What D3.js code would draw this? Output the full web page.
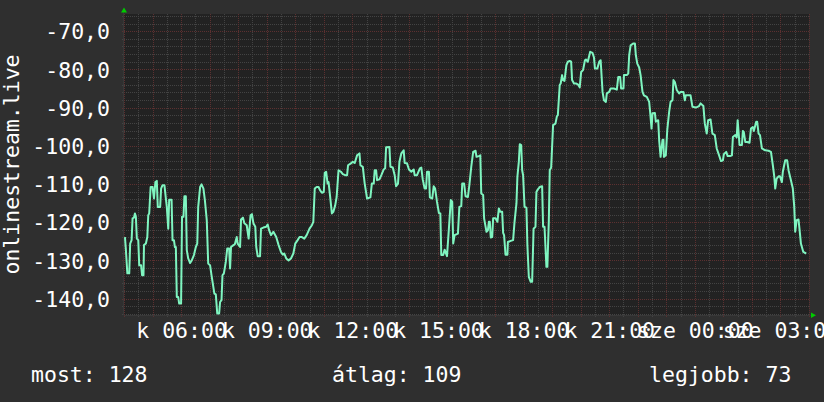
<!DOCTYPE html>
<html><head><meta charset="utf-8">
<script src="https://cdn.jsdelivr.net/npm/d3@7/dist/d3.min.js"></script>
<style>
html,body{margin:0;padding:0;background:#2f2f2f;overflow:hidden;}
svg{display:block;}
text{font-family:"DejaVu Sans Mono",monospace;fill:#ffffff;}
</style></head><body>
<svg id="chart" width="824" height="402"></svg>
<script>
// minutes after kedd 04:00
const minutes = [
2,4,7,11,13,16,18,21,23,25,27,30,32,36,38,41,42,46,49,51,
53,56,60,63,66,69,71,76,78,81,85,88,90,93,95,100,102,105,107,109,
111,114,116,120,122,125,127,130,132,135,139,142,147,151,154,156,160,163,167,170,
174,177,181,184,190,193,196,200,202,205,207,210,214,217,221,223,225,230,233,237,
239,244,246,250,253,258,262,266,269,272,276,278,281,286,288,293,299,302,305,309,
314,320,325,330,334,337,341,346,351,356,360,365,369,374,379,384,390,395,398,401,
405,409,412,416,420,422,425,428,430,433,437,440,444,447,451,456,460,465,469,471,
477,481,485,490,495,497,502,506,511,518,521,525,527,530,532,537,541,546,549,551,
558,560,565,569,572,576,579,583,588,590,595,599,604,609,611,616,622,625,628,632,
635,637,641,643,648,651,654,658,662,665,667,671,674,679,683,687,690,692,695,702,
705,709,711,715,718,723,726,730,734,739,741,746,749,751,755,757,762,765,767,769,
771,774,776,781,785,788,791,795,797,799,802,806,807,813,818,821,825,827,830,832,
835,837,839,842,846,848,851,855,858,861,865,867,870,874,879,881,884,888,890,893,
895,898,902,907,910,912,916,918,921,923,926,930,933,937,940,942,946,951,954,958,
961,965,969,971,975,980,985,988,990,995,999,1002,1006,1009,1013,1015,1020,1023,1030,1036,
1039,1043,1045,1050,1051,1057,1060,1062,1065,1071,1074,1076,1079,1083,1086,1090,1093,1099,1104,1106,
1109,1111,1116,1118,1123,1125,1128,1132,1134,1135,1139,1142,1146,1149,1153,1155,1158,1162,1167,1170,
1176,1179,1181,1191,1195,1202,1209,1212,1218,1221,1225,1228,1233,1237,1242,1246,1251,1255,1259,1261,
1266,1269,1274,1278,1280,1285,1288,1290,1294,1299,1301,1303,1306,1310,1315,1318,1322,1324,1329,1331,
1334,1337,1341,1348,1355,1360,1364,1367,1369,1372,1376,1379,1383,1385,1390,1394,1397,1402,1406,1409,
1411,1414,1418,1421,1423,1428,1434
];
const values = [
-123.9,-127.3,-133.4,-133.4,-125.6,-124.7,-119.0,-118.8,-117.7,-118.6,
-124.3,-124.7,-131.3,-131.3,-133.9,-133.9,-126.0,-125.6,-123.9,-118.2,
-117.7,-110.8,-110.8,-113.8,-109.5,-109.2,-116.0,-116.0,-111.2,-110.3,
-110.3,-113.8,-116.0,-121.7,-114.1,-114.1,-124.7,-124.7,-126.5,-126.5,
-139.6,-139.6,-141.3,-141.3,-118.6,-118.6,-113.2,-113.2,-127.3,-129.5,
-130.7,-130.1,-128.6,-126.5,-125.6,-116.0,-110.8,-110.1,-111.2,-114.2,
-119.5,-130.8,-131.3,-133.9,-138.7,-138.9,-143.9,-143.9,-140.9,-140.4,
-133.9,-133.4,-130.4,-126.9,-126.9,-132.1,-126.5,-126.0,-125.8,-123.9,
-125.6,-126.5,-119.3,-118.8,-120.3,-120.8,-124.3,-118.2,-117.9,-120.3,
-121.2,-126.5,-128.9,-128.9,-121.7,-121.4,-121.2,-120.6,-122.1,-123.4,
-122.5,-123.9,-126.0,-127.8,-128.5,-128.2,-129.5,-130.0,-129.5,-128.2,
-125.6,-124.7,-123.9,-123.9,-124.3,-123.4,-121.7,-120.8,-119.9,-111.2,
-110.8,-110.8,-111.6,-112.3,-112.1,-107.1,-106.8,-109.9,-109.5,-112.9,
-117.7,-117.3,-115.6,-113.4,-106.4,-106.8,-107.4,-107.7,-107.7,-105.1,
-104.6,-104.2,-104.5,-102.5,-102.0,-105.1,-105.5,-109.9,-113.8,-113.5,
-109.9,-109.9,-106.4,-106.4,-109.0,-108.8,-107.7,-106.2,-105.9,-100.4,
-100.3,-105.5,-105.7,-107.7,-110.6,-109.9,-104.2,-102.0,-101.2,-104.5,
-104.6,-106.2,-106.8,-106.2,-107.7,-107.7,-105.9,-105.7,-108.8,-111.2,
-111.2,-106.8,-106.8,-113.5,-113.8,-110.6,-111.2,-114.7,-117.6,-117.7,
-128.6,-128.6,-127.2,-128.9,-121.7,-114.2,-114.7,-125.6,-123.4,-123.0,
-116.0,-115.8,-109.9,-109.9,-113.2,-113.4,-110.3,-105.5,-101.6,-101.3,
-102.9,-102.7,-102.5,-112.5,-112.9,-119.0,-122.5,-122.1,-119.9,-119.9,
-124.0,-123.9,-119.0,-119.0,-119.9,-116.4,-117.3,-117.3,-122.8,-123.4,
-128.5,-128.5,-125.2,-124.9,-124.7,-119.9,-115.1,-108.1,-104.2,-99.6,
-99.8,-106.4,-107.7,-116.0,-116.2,-126.0,-134.3,-135.6,-135.6,-121.7,
-121.2,-112.1,-111.4,-110.8,-110.6,-121.2,-121.2,-131.7,-131.7,-119.9,
-106.4,-105.7,-94.6,-94.2,-92.3,-92.0,-84.1,-83.7,-81.5,-82.8,
-83.0,-78.9,-78.0,-77.8,-78.0,-82.8,-83.7,-83.7,-83.9,-84.7,
-80.7,-80.2,-77.6,-77.4,-78.0,-75.4,-75.7,-76.9,-79.8,-79.8,
-78.0,-77.6,-85.9,-88.1,-88.5,-86.3,-85.9,-85.0,-85.0,-85.3,
-82.0,-82.0,-85.0,-85.0,-81.5,-81.5,-81.1,-76.3,-73.7,-73.2,
-73.2,-76.3,-78.5,-79.5,-81.5,-85.9,-86.8,-87.2,-88.5,-91.1,
-95.5,-91.5,-91.4,-93.7,-93.3,-98.5,-102.9,-98.5,-98.4,-102.9,
-102.5,-95.9,-91.1,-88.5,-88.1,-82.8,-83.3,-85.4,-86.3,-85.9,
-85.9,-88.1,-86.8,-86.8,-89.8,-90.0,-89.6,-88.9,-89.6,-94.2,
-96.8,-93.3,-93.1,-96.8,-97.2,-100.7,-102.5,-104.0,-103.8,-102.2,
-101.6,-102.7,-102.7,-102.5,-97.7,-97.2,-97.8,-93.3,-99.8,-99.8,
-96.1,-96.4,-99.0,-99.0,-99.2,-95.5,-95.1,-96.1,-93.7,-93.7,
-96.8,-97.2,-100.7,-101.2,-101.3,-101.6,-105.1,-108.1,-111.2,-108.6,
-108.0,-108.0,-109.5,-106.8,-103.8,-103.8,-106.4,-109.0,-111.2,-116.0,
-122.5,-119.5,-119.3,-123.0,-125.6,-127.8,-128.2
];
const yTicks = [-140,-130,-120,-110,-100,-90,-80,-70];
const xTickHours = [6,9,12,15,18,21,24,27];
const xTickLabels = ["k 06:00","k 09:00","k 12:00","k 15:00","k 18:00","k 21:00","sze 00:00","sze 03:00"];
const yTitle = "onlinestream.live";
const legendLabels = ["most: 128","átlag: 109","legjobb: 73"];
const yDomain = [-144.3, -65.5];

const startTime = new Date(2024,0,2,4,0);
const endTime = new Date(2024,0,3,4,0);
const data = minutes.map((m,i)=>({t:d3.timeMinute.offset(startTime,m), v:values[i]}));

const W=824,H=402;
const L=124,R=809,T=14,B=315;
const svg=d3.select("#chart");
const x=d3.scaleTime().domain([startTime,endTime]).range([L,R]);
const y=d3.scaleLinear().domain(yDomain).range([B,T]);
const loc=d3.formatLocale({decimal:",",thousands:" ",grouping:[3],currency:["",""],minus:"-"});
const fmt=loc.format(".1f");

svg.append("rect").attr("width",W).attr("height",H).attr("fill","#2f2f2f");
svg.append("rect").attr("x",L).attr("y",T).attr("width",R-L).attr("height",B-T).attr("fill","#222222");

const grid=svg.append("g").attr("shape-rendering","crispEdges");
const px=v=>Math.round(v)+0.5;
const minorCol="#434343", majorCol="#5c3030";
// minor horizontal
const minorY=d3.range(-144,-65,2).filter(v=>v%10!==0);
grid.selectAll(".mh").data(minorY).join("line")
 .attr("x1",L-2).attr("x2",R).attr("y1",d=>px(y(d))).attr("y2",d=>px(y(d)))
 .attr("stroke",minorCol).attr("stroke-dasharray","1,1");
// minor vertical every 30 min
const minorX=d3.timeMinute.every(30).range(startTime,endTime).filter(d=>d.getMinutes()!==0);
grid.selectAll(".mv").data(minorX).join("line")
 .attr("y1",T).attr("y2",B+2).attr("x1",d=>px(x(d))).attr("x2",d=>px(x(d)))
 .attr("stroke",minorCol).attr("stroke-dasharray","1,1");
// major
grid.selectAll(".Mh").data(yTicks).join("line")
 .attr("x1",L-2).attr("x2",R).attr("y1",d=>px(y(d))).attr("y2",d=>px(y(d)))
 .attr("stroke",majorCol).attr("stroke-dasharray","1,1");
const majorX=d3.timeHour.range(startTime,d3.timeMinute.offset(endTime,1));
grid.selectAll(".Mv").data(majorX).join("line")
 .attr("y1",T).attr("y2",B+3).attr("x1",d=>px(x(d))).attr("x2",d=>px(x(d)))
 .attr("stroke",majorCol).attr("stroke-dasharray","1,1");
// axes lines
grid.append("line").attr("x1",L).attr("x2",R+2).attr("y1",B+0.5).attr("y2",B+0.5).attr("stroke","#383838");
grid.append("line").attr("x1",L-0.5).attr("x2",L-0.5).attr("y1",T-2).attr("y2",B).attr("stroke","#383838");

// data line
svg.append("clipPath").attr("id","clip").append("rect").attr("x",L).attr("y",T).attr("width",R-L).attr("height",B-T);
svg.append("path").datum(data).attr("clip-path","url(#clip)")
 .attr("fill","none").attr("stroke","#7ff5c0").attr("stroke-width",2).attr("stroke-linejoin","round")
 .attr("d",d3.line().x(d=>x(d.t)).y(d=>y(d.v)));

// arrows
svg.append("path").attr("fill","#00cc00")
 .attr("d",`M${L-3},${T-1.5}L${L+3},${T-1.5}L${L},${T-6.5}Z`);
svg.append("path").attr("fill","#00cc00")
 .attr("d",`M${R+2},${B-2.5}L${R+2},${B+3}L${R+7},${B+0.25}Z`);

// y axis labels
const yAxis=d3.axisLeft(y).tickValues(yTicks).tickFormat(fmt).tickSize(0).tickPadding(14);
const gy=svg.append("g").attr("transform",`translate(${L},0)`).call(yAxis);
gy.select(".domain").remove();
gy.selectAll("text").attr("font-size","21.5px").attr("font-family","DejaVu Sans Mono").attr("fill","#fff").attr("dy","0.36em");

// x axis labels
const xTicks=xTickHours.map(h=>d3.timeHour.offset(startTime,h-4));
const xAxis=d3.axisBottom(x).tickValues(xTicks).tickFormat((d,i)=>xTickLabels[i]).tickSize(0).tickPadding(8);
const gx=svg.append("g").attr("transform",`translate(0,${B})`).call(xAxis);
gx.select(".domain").remove();
gx.selectAll("text").attr("font-size","21.5px").attr("font-family","DejaVu Sans Mono").attr("fill","#fff");

// y title
svg.append("text").attr("transform",`translate(18.5,${(T+B)/2}) rotate(-90)`)
 .attr("text-anchor","middle").attr("font-size","21.5px").text(yTitle);

// legend
const legX=[31,332,649];
svg.selectAll(".leg").data(legendLabels).join("text")
 .attr("x",(d,i)=>legX[i]).attr("y",381.5).attr("font-size","21.5px").text(d=>d);
</script>
</body></html>
